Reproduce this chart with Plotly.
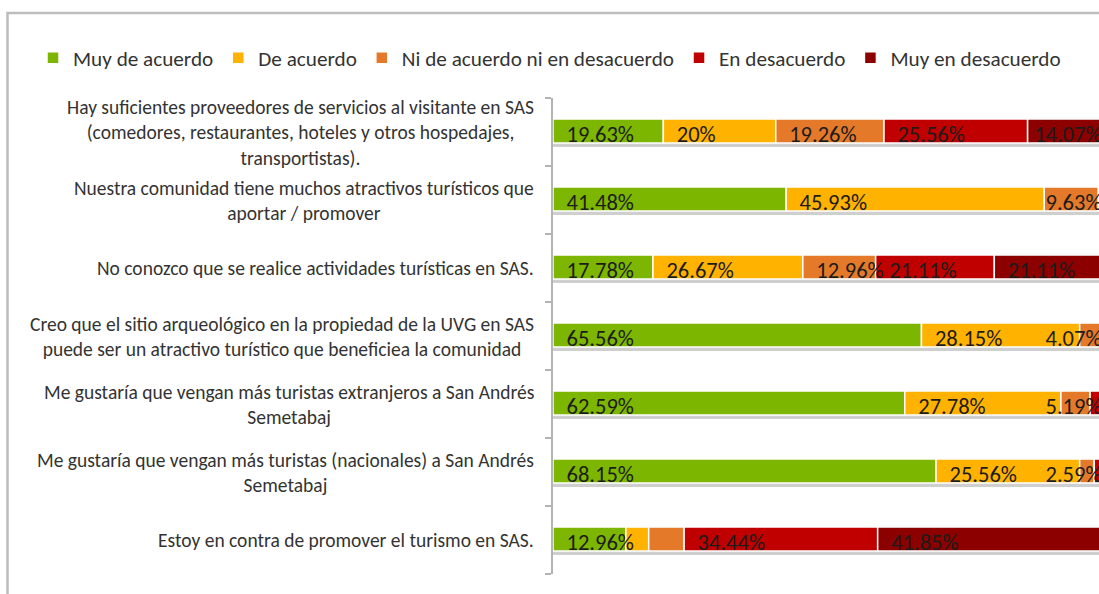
import plotly.graph_objects as go

statements = [
    "Hay suficientes proveedores de servicios al visitante en SAS<br>(comedores, restaurantes, hoteles y otros hospedajes,<br>transportistas).",
    "Nuestra comunidad tiene muchos atractivos turísticos que<br>aportar / promover",
    "No conozco que se realice actividades turísticas en SAS.",
    "Creo que el sitio arqueológico en la propiedad de la UVG en SAS<br>puede ser un atractivo turístico que beneficiea la comunidad",
    "Me gustaría que vengan más turistas extranjeros a San Andrés<br>Semetabaj",
    "Me gustaría que vengan más turistas (nacionales) a San Andrés<br>Semetabaj",
    "Estoy en contra de promover el turismo en SAS.",
]

series_names = ["Muy de acuerdo", "De acuerdo", "Ni de acuerdo ni en desacuerdo",
                "En desacuerdo", "Muy en desacuerdo"]
colors = ["#7db600", "#ffb200", "#e4792a", "#c00000", "#8c0000"]

muy_de_acuerdo = [19.63, 41.48, 17.78, 65.56, 62.59, 68.15, 12.96]
de_acuerdo = [20, 45.93, 26.67, 28.15, 27.78, 25.56, 4.07]
ni_de_acuerdo = [19.26, 9.63, 12.96, 4.07, 5.19, 2.59, 6.30]
en_desacuerdo = [25.56, 1.48, 21.11, 0.74, 2.22, 1.48, 34.44]
muy_en_desacuerdo = [14.07, 0.74, 21.11, 0.37, 1.11, 1.11, 41.85]

# which segments carry a data label in the original
show_muy_de_acuerdo = [1, 1, 1, 1, 1, 1, 1]
show_de_acuerdo = [1, 1, 1, 1, 1, 1, 0]
show_ni_de_acuerdo = [1, 1, 1, 1, 1, 1, 0]
show_en_desacuerdo = [1, 0, 1, 0, 0, 0, 1]
show_muy_en_desacuerdo = [1, 0, 1, 0, 0, 0, 1]

values = [muy_de_acuerdo, de_acuerdo, ni_de_acuerdo, en_desacuerdo, muy_en_desacuerdo]
shows = [show_muy_de_acuerdo, show_de_acuerdo, show_ni_de_acuerdo,
         show_en_desacuerdo, show_muy_en_desacuerdo]

W, H = 1099, 594
X_MAX = 97.15      # visible end of the value axis (chart is cut at the right)
EDGE = 97.6        # labels near the end get pushed left so they end here
PAD = 2.4
CHAR_W = 2.0
LABEL_DY = 0.06
FONT = "Carlito, Lato, sans-serif"

cats = list(range(len(statements)))
totals = [sum(v[i] for v in values) for i in cats]

fig = go.Figure()

# grey shadow under each row
fig.add_trace(go.Bar(y=cats, x=totals, base=[0] * len(cats), orientation="h",
                     width=0.35, offset=-0.13, marker_color="#cfcfcf",
                     marker_line_width=0, showlegend=False, hoverinfo="skip"))

starts = [0] * len(cats)
lx, ly, lt = [], [], []
ex, ey, et = [], [], []
for name, col, vals, show in zip(series_names, colors, values, shows):
    fig.add_trace(go.Bar(y=cats, x=vals, base=list(starts), orientation="h",
                         width=0.35, offset=-0.19, name=name, marker_color=col,
                         marker_line=dict(color="white", width=1.5)))
    for i in cats:
        if show[i]:
            txt = f"{vals[i]:g}%"
            if starts[i] + PAD + len(txt) * CHAR_W > EDGE + 0.8:
                ex.append(EDGE); ey.append(i + LABEL_DY); et.append(txt)
            else:
                lx.append(starts[i] + PAD); ly.append(i + LABEL_DY); lt.append(txt)
        starts[i] += vals[i]

label_font = dict(family=FONT, size=22.5, color="#1c1c1c")
fig.add_trace(go.Scatter(x=lx, y=ly, text=lt, mode="text", textposition="middle right",
                         textfont=label_font, showlegend=False, hoverinfo="skip"))
fig.add_trace(go.Scatter(x=ex, y=ey, text=et, mode="text", textposition="middle left",
                         textfont=label_font, showlegend=False, hoverinfo="skip"))

for i, s in enumerate(statements):
    fig.add_annotation(x=536 / W, xref="paper", y=i, yref="y", text=s, showarrow=False,
                       xanchor="right", yanchor="middle", align="center",
                       font=dict(family=FONT, size=19.5, color="#333333"))

# chart frame
fig.add_shape(type="rect", xref="paper", yref="paper", x0=7.5 / W, x1=1.05,
              y0=-0.05, y1=1 - 13 / H, line=dict(color="#bdbdbd", width=2.5))

fig.update_layout(
    width=W, height=H,
    margin=dict(l=0, r=0, t=0, b=0),
    paper_bgcolor="white", plot_bgcolor="white",
    barmode="overlay",
    font=dict(family=FONT, color="#333333"),
    showlegend=True,
    legend=dict(orientation="h", x=33 / W, xanchor="left", y=1 - 58 / H, yanchor="middle",
                font=dict(size=21.2), traceorder="normal", bgcolor="rgba(0,0,0,0)"),
    xaxis=dict(domain=[553 / W, 1], range=[0, X_MAX], visible=False),
    yaxis=dict(domain=[1 - 574 / H, 1 - 98 / H], range=[6.5, -0.5], type="linear",
               showgrid=False, zeroline=False, showticklabels=False,
               showline=True, linecolor="#b3b3b3", linewidth=2,
               ticks="outside", ticklen=6, tickcolor="#b3b3b3", tickwidth=2,
               tickvals=[i + 0.5 for i in range(-1, len(cats))]),
)

# page body margin would shift the fixed-size figure
fig.write_html("out.html", config={"displayModeBar": False},
               post_script="document.body.style.margin='0';")
